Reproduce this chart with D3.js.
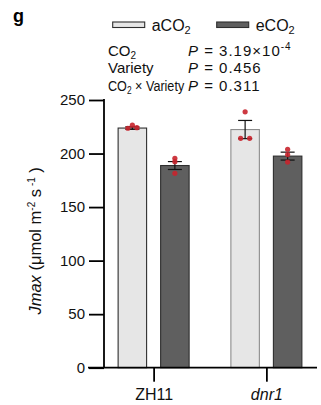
<!DOCTYPE html>
<html>
<head>
<meta charset="utf-8">
<script src="https://cdn.jsdelivr.net/npm/d3@7"></script>
<style>
  body { margin: 0; background: #fff; }
  svg text { font-family: "Liberation Sans", Arial, sans-serif; }
</style>
</head>
<body>
<svg id="chart" width="321" height="405"></svg>
<script>
// data
var groups = ["ZH11", "dnr1"];
var conditions = ["aCO2", "eCO2"];
var means = {
  ZH11: { aCO2: 223.8, eCO2: 188.8 },
  dnr1: { aCO2: 222.4, eCO2: 197.6 }
};
var errors = {
  ZH11: { aCO2: 1.2, eCO2: 3.7 },
  dnr1: { aCO2: 8.5, eCO2: 3.7 }
};
var points = {
  ZH11: { aCO2: [226.5, 223.6, 224.2], eCO2: [195.6, 192.4, 181.5] },
  dnr1: { aCO2: [239.0, 214.2, 214.2], eCO2: [204.0, 199.0, 192.0] }
};
var yTicks = [0, 50, 100, 150, 200, 250];
var statLabels = ["CO2", "Variety", "CO2 × Variety"];
var statValues = ["3.19×10", "0.456", "0.311"];

var svg = d3.select("#chart");

var y = d3.scaleLinear().domain([0, 250]).range([367.7, 100]);
var x0 = d3.scalePoint().domain(groups).range([104, 316]).padding(0.44);
var x1 = d3.scaleBand().domain(conditions).range([-35.5, 35.5]).paddingInner(0.33);

var fills = { aCO2: "#e6e6e6", eCO2: "#5f5f5f" };
var strokes = {
  ZH11: { aCO2: "#2e2e2e", eCO2: "#2e2e2e" },
  dnr1: { aCO2: "#8c8c8c", eCO2: "#2e2e2e" }
};

// flatten
var bars = [];
groups.forEach(function (g) {
  conditions.forEach(function (c) {
    bars.push({ g: g, c: c, v: means[g][c], e: errors[g][c], pts: points[g][c] });
  });
});

// bars
svg.selectAll(".bar")
  .data(bars).enter()
  .append("rect")
  .attr("class", "bar")
  .attr("x", function (d) { return x0(d.g) + x1(d.c); })
  .attr("y", function (d) { return y(d.v); })
  .attr("width", x1.bandwidth())
  .attr("height", function (d) { return y(0) - y(d.v); })
  .attr("fill", function (d) { return fills[d.c]; })
  .attr("stroke", function (d) { return strokes[d.g][d.c]; })
  .attr("stroke-width", 1.1);

// error bars
var eb = svg.selectAll(".err")
  .data(bars).enter()
  .append("g")
  .attr("class", "err")
  .attr("transform", function (d) { return "translate(" + (x0(d.g) + x1(d.c) + x1.bandwidth() / 2) + ",0)"; })
  .attr("stroke", "#111")
  .attr("stroke-width", 1.2);
eb.append("line")
  .attr("x1", 0).attr("x2", 0)
  .attr("y1", function (d) { return y(d.v + d.e); })
  .attr("y2", function (d) { return y(d.v - d.e); });
eb.append("line")
  .attr("x1", -7).attr("x2", 7)
  .attr("y1", function (d) { return y(d.v + d.e); })
  .attr("y2", function (d) { return y(d.v + d.e); });
eb.append("line")
  .attr("x1", -7).attr("x2", 7)
  .attr("y1", function (d) { return y(d.v - d.e); })
  .attr("y2", function (d) { return y(d.v - d.e); });

// dots, spread sideways when values nearly tie
var dots = [];
bars.forEach(function (b) {
  var cx = x0(b.g) + x1(b.c) + x1.bandwidth() / 2;
  b.pts.forEach(function (v, i) {
    var close = b.pts.filter(function (w, j) { return j != i && Math.abs(w - v) < 2; });
    var off = 0;
    if (close.length) {
      var idx = b.pts.filter(function (w, j) { return j < i && Math.abs(w - v) < 2; }).length;
      off = idx == 0 ? -4.5 : 4.5;
    }
    dots.push({ cx: cx + off, v: v });
  });
});
svg.selectAll(".dot")
  .data(dots).enter()
  .append("circle")
  .attr("class", "dot")
  .attr("cx", function (d) { return d.cx; })
  .attr("cy", function (d) { return y(d.v); })
  .attr("r", 2.6)
  .attr("fill", "#c8232c")
  .attr("opacity", 0.9);

// y axis
var yAxis = svg.append("g")
  .attr("transform", "translate(104,0)")
  .call(d3.axisLeft(y).tickValues(yTicks).tickSize(15).tickPadding(4));
yAxis.select(".domain").remove();
yAxis.selectAll(".tick line").attr("stroke", "#000").attr("stroke-width", 1.8);
yAxis.selectAll(".tick text").attr("font-size", 15).attr("fill", "#111")
  .style("font-family", "Liberation Sans, Arial, sans-serif");
svg.append("line")
  .attr("x1", 104).attr("x2", 104)
  .attr("y1", y(250) - 0.9).attr("y2", y(0))
  .attr("stroke", "#000").attr("stroke-width", 1.8);

// x axis
var xAxis = svg.append("g")
  .attr("transform", "translate(0," + y(0) + ")")
  .call(d3.axisBottom(x0).tickSize(14).tickPadding(7));
xAxis.select(".domain").remove();
xAxis.selectAll(".tick line").attr("stroke", "#000").attr("stroke-width", 1.8);
xAxis.selectAll(".tick text").attr("font-size", 16).attr("fill", "#111")
  .style("font-family", "Liberation Sans, Arial, sans-serif")
  .style("font-style", function (d) { return d == "dnr1" ? "italic" : "normal"; });
svg.append("line")
  .attr("x1", 88).attr("x2", 317)
  .attr("y1", y(0)).attr("y2", y(0))
  .attr("stroke", "#000").attr("stroke-width", 1.8);

// y label
var yl = svg.append("text")
  .attr("transform", "translate(41," + ((y(0) + y(250)) / 2 + 7) + ") rotate(-90)")
  .attr("text-anchor", "middle")
  .attr("font-size", 16.5)
  .attr("fill", "#111");
yl.append("tspan").attr("font-style", "italic").text("Jmax");
yl.append("tspan").text(" (μmol m");
yl.append("tspan").attr("font-size", 10).attr("dy", -6).text("-2");
yl.append("tspan").attr("dy", 6).text(" s");
yl.append("tspan").attr("font-size", 10).attr("dy", -6).text(" -1");
yl.append("tspan").attr("dy", 6).text(" )");

// panel letter
svg.append("text").attr("x", 13).attr("y", 22)
  .attr("font-size", 18).attr("font-weight", "bold").attr("fill", "#000").text("g");

// legend
var legX = [112.7, 216.7];
var leg = svg.selectAll(".leg")
  .data(conditions).enter()
  .append("g")
  .attr("class", "leg")
  .attr("transform", function (d, i) { return "translate(" + legX[i] + ",0)"; });
leg.append("rect")
  .attr("x", 0).attr("y", 22).attr("width", 32).attr("height", 5.5)
  .attr("fill", function (d) { return fills[d]; })
  .attr("stroke", "#2e2e2e").attr("stroke-width", 1.1);
var lt = leg.append("text")
  .attr("x", 39).attr("y", 30.5)
  .attr("font-size", 16).attr("fill", "#111");
lt.append("tspan").text(function (d) { return d.slice(0, 3); });
lt.append("tspan").attr("font-size", 11).attr("dy", 3).text("2");

// statistics
var rowY = [55.5, 73, 90.5];
statLabels.forEach(function (s, i) {
  var sx = i == 2 ? 0.84 : 1;
  var t = svg.append("text")
    .attr("transform", "translate(108," + rowY[i] + ") scale(" + sx + ",1)")
    .attr("font-size", 15).attr("fill", "#111");
  if (s.indexOf("CO2") == 0) {
    t.append("tspan").text("CO");
    t.append("tspan").attr("font-size", 10).attr("dy", 3).text("2");
    if (s.length > 3) t.append("tspan").attr("dy", -3).text(s.slice(3));
  } else {
    t.text(s);
  }
  var p = svg.append("text").attr("x", 188).attr("y", rowY[i])
    .attr("font-size", 15).attr("letter-spacing", 1).attr("fill", "#111");
  p.append("tspan").attr("font-style", "italic").text("P");
  p.append("tspan").text(" = " + statValues[i]);
  if (i == 0) p.append("tspan").attr("font-size", 10).attr("dy", -6).text("-4");
});
</script>
</body>
</html>
